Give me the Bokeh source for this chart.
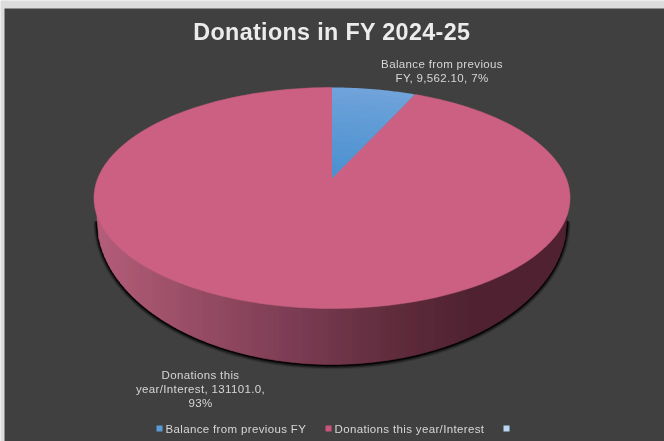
import math
from bokeh.plotting import figure
from bokeh.core.properties import value
from bokeh.embed import file_html
from bokeh.resources import INLINE

# --- data
title = "Donations in FY 2024-25"
categories = ["Balance from previous FY", "Donations this year/Interest", ""]
values = [9562.10, 131101.0, 0.0]
label_lines = [["Balance from previous", "FY, 9,562.10, 7%"],
               ["Donations this", "year/Interest, 131101.0,", "93%"]]
colors = ["#5b9bd5", "#cb6082", "#b9d7f0"]

W, H = 664, 441
TXT = "#d6d6d6"
FONT = "Liberation Sans"
SPACING = 0.35  # inherited by the svg text; centring does not know about it

p = figure(width=W, height=H, x_range=(0, W), y_range=(H, 0), toolbar_location=None,
           output_backend="svg", min_border=0, outline_line_color=None,
           background_fill_color="#dcdcdc", border_fill_color="#dcdcdc",
           styles={"position": "fixed", "left": "0", "top": "0", "letter-spacing": f"{SPACING}px"})
p.axis.visible = False
p.grid.visible = False

p.quad(left=[4], right=[W], top=[8], bottom=[H], fill_color="#404040", line_color=None)

# perspective view of the pie disc
CX, APEX_Y, K, A, C = 331.5, 177.0, 0.1855, -73.86, 233.9

def proj(u, v):
    d = 1 + K * v
    return CX + C * u / d, (A * v + APEX_Y) / d

def arc(f0, f1, r=1.0, n=120):
    out = []
    for i in range(n + 1):
        t = 2 * math.pi * (f0 + (f1 - f0) * i / n)
        out.append(proj(r * math.sin(t), r * math.cos(t)))
    return out

# lower rim of the side wall
LOW_CY, LOW_RY, LOW_RX = 219.6, 144.4, 235.0

def low_y(x):
    q = max(0.0, 1 - ((x - CX) / LOW_RX) ** 2)
    return LOW_CY + LOW_RY * math.sqrt(q)

# soft shadow: only the lower half of the rim
for grow, alpha in [(5, 0.18), (3.5, 0.35), (2, 0.6), (1, 1.0)]:
    n = 160
    sx, sy = [], []
    for i in range(n + 1):
        t = math.pi * i / n
        sx.append(CX + (LOW_RX + grow * 0.7) * math.cos(t))
        sy.append(LOW_CY + 0.5 + grow / 4 + (LOW_RY + grow * 0.6) * math.sin(t))
    p.patch(sx, sy, fill_color="#000000", fill_alpha=alpha, line_color=None)

# side wall shading
def side_color(x):
    stops = [(96, (180, 94, 122)), (200, (150, 76, 100)), (300, (122, 60, 82)), (400, (95, 44, 60)), (470, (80, 35, 50)), (570, (80, 35, 50))]
    for (a, ca), (b, cb) in zip(stops, stops[1:]):
        if x <= b:
            t = max(0, (x - a) / (b - a))
            return "#%02x%02x%02x" % tuple(round(ca[i] + (cb[i] - ca[i]) * t) for i in range(3))
    return "#50232f"

x = CX - LOW_RX
step = 2.0
xs, ys, cs = [], [], []
while x < CX + LOW_RX:
    x2 = min(x + step, CX + LOW_RX)
    xs.append([x, x2, x2, x])
    ys.append([197, 197, low_y(x2), low_y(x)])
    cs.append(side_color((x + x2) / 2))
    x = x2
p.patches(xs, ys, fill_color=cs, line_color=cs, line_width=0.5)

# top face
total = sum(values)
f_blue = values[0] / total
outer = arc(f_blue, 1.0, n=300)
p.patch([proj(0, 0)[0]] + [a for a, _ in outer], [proj(0, 0)[1]] + [b for _, b in outer],
        fill_color=colors[1], line_color=colors[1], line_width=0.5)

# first slice with its soft gradient, painted from the rim inwards
bands = 14
for i in range(bands, 0, -1):
    r1 = i / bands
    a = arc(0, f_blue, r1, 24)
    t = (i - 0.5) / bands
    col = "#%02x%02x%02x" % (round(74 + 38 * t), round(144 + 20 * t), round(208 + 10 * t))
    ax = [proj(0, 0)[0]] + [q[0] for q in a]
    ay = [proj(0, 0)[1]] + [q[1] for q in a]
    p.patch(ax, ay, fill_color=col, line_color=None)

# texts
def centred(cx, s):
    return cx - len(s) * SPACING / 2

p.text([centred(331.5, title)], [31], text=[title], text_font=value(FONT), text_font_style="bold", text_font_size="23.3px",
       text_color="#ececec", text_align="center", text_baseline="middle")

for lines, cx, y0 in zip(label_lines, [441.5, 200.0], [63.0, 374.0]):
    p.text([centred(cx, s) for s in lines], [y0 + 14 * i for i in range(len(lines))], text=lines, text_font=value(FONT),
           text_font_size="11.5px", text_color=TXT, text_align="center", text_baseline="middle")

legend_x = [159.0, 328.0, 506.0]
p.scatter(legend_x, [428] * 3, marker="square", size=6, fill_color=[colors[0], "#c9547c", colors[2]], line_color=None)
p.text([x + 6 for x in legend_x], [428] * 3, text=categories, text_font=value(FONT), text_font_size="11.5px",
       text_color=TXT, text_align="left", text_baseline="middle")

open("out.html", "w").write(file_html(p, INLINE))
